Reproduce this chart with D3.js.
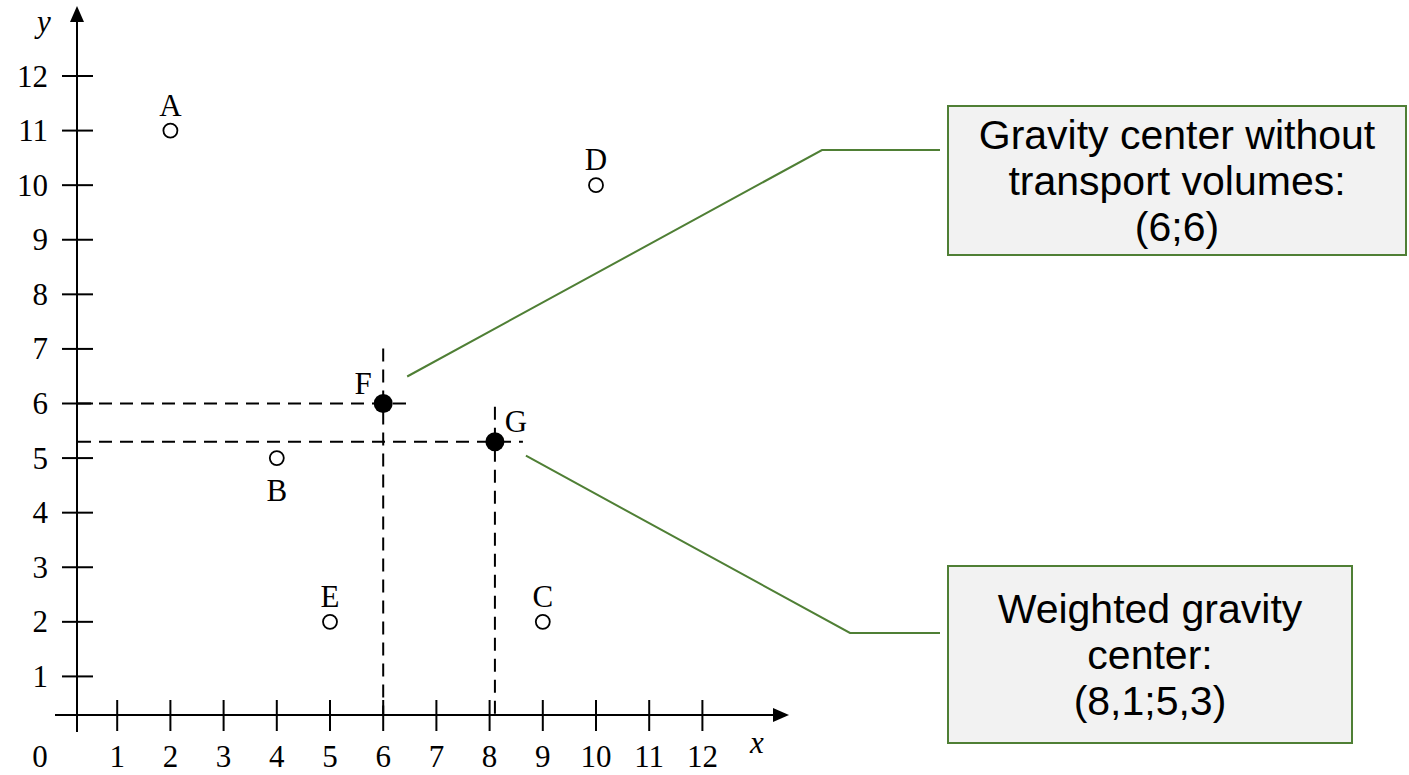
<!DOCTYPE html>
<html>
<head>
<meta charset="utf-8">
<script src="https://cdn.jsdelivr.net/npm/d3@7"></script>
<style>
  body { margin: 0; background: #fff; }
  svg { display: block; }
</style>
</head>
<body>
<svg id="chart-svg"></svg>
<script>
// warehouse points
const pointNames = ['A', 'B', 'C', 'D', 'E'];
const pointX = [2, 4, 9, 10, 5];
const pointY = [11, 5, 2, 10, 2];
// where the label sits relative to the point
const pointLabelSide = ['above', 'below', 'above', 'above', 'above'];

// gravity centers
const centerNames = ['F', 'G'];
const centerX = [6, 8.1];
const centerY = [6, 5.3];

const xTicks = [1, 2, 3, 4, 5, 6, 7, 8, 9, 10, 11, 12];
const yTicks = [1, 2, 3, 4, 5, 6, 7, 8, 9, 10, 11, 12];

const calloutTop = ['Gravity center without', 'transport volumes:', '(6;6)'];
const calloutBottom = ['Weighted gravity', 'center:', '(8,1;5,3)'];

const width = 1409, height = 775;
const svg = d3.select('#chart-svg')
    .attr('width', width)
    .attr('height', height);

const serif = '"Liberation Serif", "Times New Roman", serif';
const sans = '"Liberation Sans", Arial, sans-serif';
const green = '#4f7f35';
const serifSize = '31px';

// scales
const x = d3.scaleLinear().domain([0, 12]).range([64, 702.4]);
const y = d3.scaleLinear().domain([0, 12]).range([731, 76]);

// axes cross a little inside the origin, as in the drawing
const yAxisX = 77;
const xAxisY = 715;

const axes = svg.append('g').attr('stroke', '#000').attr('stroke-width', 2);

// y axis + arrow
axes.append('line')
    .attr('x1', yAxisX).attr('x2', yAxisX)
    .attr('y1', 20).attr('y2', 732);
svg.append('path')
    .attr('d', `M${yAxisX},6 L${yAxisX - 7},22 L${yAxisX + 7},22 Z`)
    .attr('fill', '#000');

// x axis + arrow
axes.append('line')
    .attr('x1', 55).attr('x2', 776)
    .attr('y1', xAxisY).attr('y2', xAxisY);
svg.append('path')
    .attr('d', `M789,${xAxisY} L773,${xAxisY - 7} L773,${xAxisY + 7} Z`)
    .attr('fill', '#000');

// ticks
axes.selectAll('.ytick')
    .data(yTicks)
    .enter()
    .append('line')
    .attr('class', 'ytick')
    .attr('x1', yAxisX - 15).attr('x2', yAxisX + 16)
    .attr('y1', d => y(d)).attr('y2', d => y(d));

axes.selectAll('.xtick')
    .data(xTicks)
    .enter()
    .append('line')
    .attr('class', 'xtick')
    .attr('x1', d => x(d)).attr('x2', d => x(d))
    .attr('y1', xAxisY - 15).attr('y2', xAxisY + 16);

// tick labels
svg.selectAll('.ylab')
    .data(yTicks)
    .enter()
    .append('text')
    .attr('class', 'ylab')
    .attr('x', 48)
    .attr('y', d => y(d))
    .attr('dy', '0.34em')
    .attr('text-anchor', 'end')
    .style('font-family', serif)
    .style('font-size', serifSize)
    .text(d => d);

svg.selectAll('.xlab')
    .data(xTicks)
    .enter()
    .append('text')
    .attr('class', 'xlab')
    .attr('x', d => x(d))
    .attr('y', 767)
    .attr('text-anchor', 'middle')
    .style('font-family', serif)
    .style('font-size', serifSize)
    .text(d => d);

svg.append('text')
    .attr('x', 40).attr('y', 767)
    .attr('text-anchor', 'middle')
    .style('font-family', serif)
    .style('font-size', serifSize)
    .text('0');

// axis names
svg.append('text')
    .attr('x', 44).attr('y', 32)
    .attr('text-anchor', 'middle')
    .style('font-family', serif)
    .style('font-style', 'italic')
    .style('font-size', serifSize)
    .text('y');

svg.append('text')
    .attr('x', 757).attr('y', 753)
    .attr('text-anchor', 'middle')
    .style('font-family', serif)
    .style('font-style', 'italic')
    .style('font-size', serifSize)
    .text('x');

// dashed guide lines to the gravity centers
const guides = svg.append('g')
    .attr('stroke', '#000')
    .attr('stroke-width', 2)
    .attr('stroke-dasharray', '13,8')
    .attr('fill', 'none');

const vTop = [y(6) - 55, y(5.3) - 35];
const hEnd = [x(6) + 27, x(8.1) + 28];
centerNames.forEach(function (n, i) {
    guides.append('line')
        .attr('x1', yAxisX + 1).attr('x2', hEnd[i])
        .attr('y1', y(centerY[i])).attr('y2', y(centerY[i]));
    guides.append('line')
        .attr('x1', x(centerX[i])).attr('x2', x(centerX[i]))
        .attr('y1', vTop[i]).attr('y2', xAxisY);
});

// open points
svg.selectAll('.pt')
    .data(pointNames)
    .enter()
    .append('circle')
    .attr('class', 'pt')
    .attr('cx', (d, i) => x(pointX[i]))
    .attr('cy', (d, i) => y(pointY[i]))
    .attr('r', 7)
    .attr('fill', '#fff')
    .attr('stroke', '#000')
    .attr('stroke-width', 1.8);

svg.selectAll('.ptlab')
    .data(pointNames)
    .enter()
    .append('text')
    .attr('class', 'ptlab')
    .attr('x', (d, i) => x(pointX[i]))
    .attr('y', (d, i) => y(pointY[i]) + (pointLabelSide[i] === 'above' ? -15 : 43))
    .attr('text-anchor', 'middle')
    .style('font-family', serif)
    .style('font-size', serifSize)
    .text(d => d);

// filled gravity centers
svg.selectAll('.ctr')
    .data(centerNames)
    .enter()
    .append('circle')
    .attr('class', 'ctr')
    .attr('cx', (d, i) => x(centerX[i]))
    .attr('cy', (d, i) => y(centerY[i]))
    .attr('r', 9.5)
    .attr('fill', '#000');

const ctrLabDx = [-20, 21];
svg.selectAll('.ctrlab')
    .data(centerNames)
    .enter()
    .append('text')
    .attr('class', 'ctrlab')
    .attr('x', (d, i) => x(centerX[i]) + ctrLabDx[i])
    .attr('y', (d, i) => y(centerY[i]) - 10)
    .attr('text-anchor', 'middle')
    .style('font-family', serif)
    .style('font-size', serifSize)
    .text(d => d);

// callouts
function callout(lines, box, pts) {
    svg.append('polyline')
        .attr('points', pts.map(p => p.join(',')).join(' '))
        .attr('fill', 'none')
        .attr('stroke', green)
        .attr('stroke-width', 2);
    svg.append('rect')
        .attr('x', box.x).attr('y', box.y)
        .attr('width', box.w).attr('height', box.h)
        .attr('fill', '#f2f2f2')
        .attr('stroke', green)
        .attr('stroke-width', 2);
    const cx = box.x + box.w / 2;
    const cy = box.y + box.h / 2;
    const lh = 46;
    lines.forEach(function (t, i) {
        svg.append('text')
            .attr('x', cx)
            .attr('y', cy + (i - (lines.length - 1) / 2) * lh)
            .attr('dy', '0.36em')
            .attr('text-anchor', 'middle')
            .style('font-family', sans)
            .style('font-size', '41px')
            .attr('fill', '#000')
            .text(t);
    });
}

callout(calloutTop,
    {x: 948, y: 106, w: 458, h: 149},
    [[x(6) + 24, y(6) - 27], [822, 150], [940, 150]]);

callout(calloutBottom,
    {x: 948, y: 566, w: 404, h: 177},
    [[x(8.1) + 31, y(5.3) + 14], [850, 633], [940, 633]]);
</script>
</body>
</html>
